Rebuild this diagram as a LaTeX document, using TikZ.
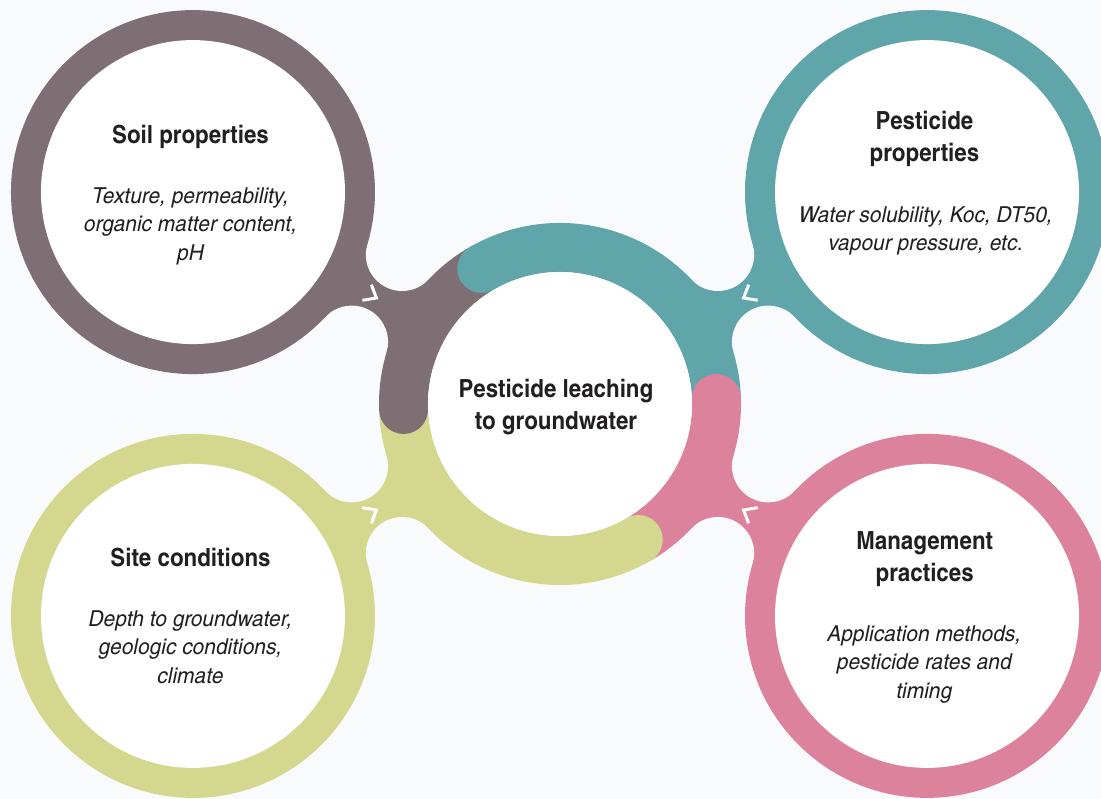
\documentclass[tikz,border=0pt]{standalone}
\usepackage{fontspec}
\newfontfamily\headfont{texgyreheroscn}[Extension=.otf, UprightFont=*-bold, FakeStretch=1.09]
\newfontfamily\descfont{texgyreheroscn}[Extension=.otf, UprightFont=*-italic, FakeStretch=1.16]
\usetikzlibrary{calc}

\definecolor{soilc}{RGB}{125,111,115}
\definecolor{pestc}{RGB}{95,165,170}
\definecolor{sitec}{RGB}{212,216,143}
\definecolor{mgmtc}{RGB}{221,130,156}
\definecolor{bgc}{RGB}{248,250,252}
\definecolor{txtc}{RGB}{34,31,32}

\tikzset{
  headtxt/.style={font=\fontsize{25}{32}\headfont, text=txtc, align=center, inner sep=0pt},
  desctxt/.style={font=\fontsize{22}{28.5}\descfont, text=txtc, align=center, inner sep=0pt},
  chev/.style={white, line width=3pt},
}

\begin{document}
\begin{tikzpicture}[x=1pt,y=1pt]
\path[use as bounding box] (0,0) rectangle (1101,799);
\clip (0,0) rectangle (1101,799);
\fill[bgc] (0,0) rectangle (1101,799);

\coordinate (hub) at (560,395);

% necks from the hub out to the rings
\foreach \a/\c in {150/soilc, 30/pestc, -30/mgmtc, -150/sitec} {
  \fill[\c] (hub) -- ($(hub)+(\a+13.4:217.3)$) -- ($(hub)+(\a:423.8)$) -- ($(hub)+(\a-13.4:217.3)$) -- cycle;
  \fill[bgc] ($(hub)+(\a+13.4:217.3)$) circle[radius=36.3];
  \fill[bgc] ($(hub)+(\a-13.4:217.3)$) circle[radius=36.3];
}

% outer rings
\foreach \a/\c/\n in {150/soilc/soil, 30/pestc/pest, -30/mgmtc/mgmt, -150/sitec/site} {
  \coordinate (\n) at ($(hub)+(\a:423.8)$);
  \fill[\c] (\n) circle[radius=182];
  \fill[white] (\n) circle[radius=152];
}

% hub ring, one arc per factor
\foreach \s/\e/\c in {182/120/soilc, 120/2/pestc, 2/-60/mgmtc, -60/-178/sitec}
  \draw[\c, line width=49pt] ($(hub)+(\s:156.5)$) arc[start angle=\s, end angle=\e, radius=156.5];
\foreach \s/\c in {182/soilc, 120/pestc, 2/mgmtc, -60/sitec}
  \fill[\c] ($(hub)+(\s:156.5)$) circle[radius=24.5];
\fill[white] (hub) circle[radius=132];

\foreach \a in {150,30,-30,-150}
  \draw[chev] ($(hub)+(\a:223)+(\a+90:9)$) -- ($(hub)+(\a:212)$) -- ($(hub)+(\a:223)+(\a-90:9)$);

% % % % % % % % % % % % % % % % % % % % % % % % % %

\node[headtxt] (hubtxt) at (556,391.6) {Pesticide leaching\\to groundwater};

\node[headtxt] (soilhead) at (190.5,662) {Soil properties};
\node[desctxt] (soildesc) at (190.5,573) {Texture, permeability,\\organic matter content,\\pH};

\node[headtxt] (pesthead) at (924.5,660) {Pesticide\\properties};
\node[desctxt] (pestdesc) at (925.8,568.3) {Water solubility, Koc, DT50,\\vapour pressure, etc.};

\node[headtxt] (sitehead) at (190.5,241.5) {Site conditions};
\node[desctxt] (sitedesc) at (190.5,152) {Depth to groundwater,\\geologic conditions,\\climate};

\node[headtxt] (mgmthead) at (924.7,240) {Management\\practices};
\node[desctxt] (mgmtdesc) at (924.3,134.5) {Application methods,\\pesticide rates and\\timing};
\end{tikzpicture}
\end{document}
